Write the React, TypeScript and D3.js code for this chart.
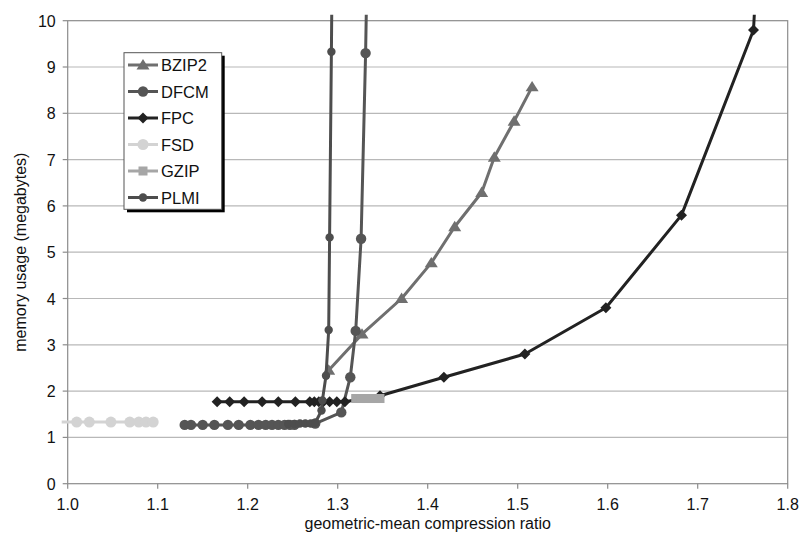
import React from "react";
import * as d3 from "d3";

// series values
const bzip2X = [1.290, 1.327, 1.371, 1.404, 1.430, 1.460, 1.474, 1.496, 1.516];
const bzip2Y = [2.45, 3.23, 4.00, 4.77, 5.55, 6.29, 7.05, 7.83, 8.57];

const dfcmX = [1.130, 1.137, 1.150, 1.163, 1.178, 1.190, 1.203, 1.212, 1.220, 1.227, 1.234, 1.241, 1.247, 1.252, 1.275, 1.304, 1.314, 1.320, 1.326, 1.331, 1.337];
const dfcmY = [1.27, 1.27, 1.27, 1.27, 1.27, 1.27, 1.27, 1.27, 1.27, 1.27, 1.27, 1.27, 1.27, 1.27, 1.30, 1.54, 2.30, 3.30, 5.29, 9.30, 16];

const fpcX = [1.166, 1.180, 1.196, 1.216, 1.234, 1.253, 1.269, 1.274, 1.279, 1.284, 1.291, 1.299, 1.308, 1.347, 1.418, 1.508, 1.598, 1.682, 1.762, 1.768];
const fpcY = [1.77, 1.77, 1.77, 1.77, 1.77, 1.77, 1.77, 1.77, 1.77, 1.77, 1.77, 1.77, 1.77, 1.90, 2.30, 2.80, 3.80, 5.80, 9.80, 12];

const fsdX = [0.97, 1.010, 1.024, 1.048, 1.069, 1.079, 1.087, 1.095];
const fsdY = [1.33, 1.33, 1.33, 1.33, 1.33, 1.33, 1.33, 1.33];

const gzipX = [1.320, 1.326, 1.332, 1.337, 1.342, 1.347];
const gzipY = [1.84, 1.84, 1.84, 1.84, 1.84, 1.84];

const plmiX = [1.245, 1.252, 1.258, 1.264, 1.270, 1.275, 1.282, 1.283, 1.287, 1.290, 1.291, 1.293, 1.296];
const plmiY = [1.29, 1.29, 1.30, 1.30, 1.30, 1.31, 1.58, 1.80, 2.33, 3.32, 5.32, 9.33, 16];

const xTicks = [1.0, 1.1, 1.2, 1.3, 1.4, 1.5, 1.6, 1.7, 1.8];
const yTicks = [0, 1, 2, 3, 4, 5, 6, 7, 8, 9, 10];

type Series = { name: string; xs: number[]; ys: number[]; color: string; marker: string; size: number };

const series: Series[] = [
  { name: "BZIP2", xs: bzip2X, ys: bzip2Y, color: "#6f6f6f", marker: "triangle", size: 11 },
  { name: "DFCM", xs: dfcmX, ys: dfcmY, color: "#555555", marker: "circle", size: 5.2 },
  { name: "FPC", xs: fpcX, ys: fpcY, color: "#222222", marker: "diamond", size: 5.5 },
  { name: "FSD", xs: fsdX, ys: fsdY, color: "#d3d3d3", marker: "circle", size: 5.5 },
  { name: "GZIP", xs: gzipX, ys: gzipY, color: "#a6a6a6", marker: "square", size: 4.5 },
  { name: "PLMI", xs: plmiX, ys: plmiY, color: "#4d4d4d", marker: "circle", size: 4.2 },
];

const font = "'Liberation Sans', Arial, sans-serif";

const Marker = ({ kind, x, y, size, color }: { kind: string; x: number; y: number; size: number; color: string }) => {
  if (kind === "circle") return <circle cx={x} cy={y} r={size} fill={color} />;
  if (kind === "square") return <rect x={x - size} y={y - size} width={size * 2} height={size * 2} fill={color} />;
  if (kind === "diamond")
    return <path d={`M${x},${y - size}L${x + size},${y}L${x},${y + size}L${x - size},${y}Z`} fill={color} />;
  const h = size * 0.9;
  return <path d={`M${x},${y - h * 0.6}L${x + size / 2 + 1},${y + h * 0.45}L${x - size / 2 - 1},${y + h * 0.45}Z`} fill={color} />;
};

export default function App() {
  const width = 804;
  const height = 545;
  const left = 67.7, right = 787.7, top = 20.7, bottom = 483.7;

  const x = d3.scaleLinear().domain([1.0, 1.8]).range([left, right]);
  const y = d3.scaleLinear().domain([0, 10]).range([bottom, top]);

  const line = d3.line<[number, number]>().x(d => x(d[0])).y(d => y(d[1]));

  return (
    <svg width={width} height={height} style={{ position: "absolute", left: 0, top: 0, background: "#fff" }}>
      <defs>
        <clipPath id="plot-clip">
          <rect x={left - 6} y={top - 6} width={right - left + 6} height={bottom - top + 6} />
        </clipPath>
      </defs>
      <rect width={width} height={height} fill="#fff" />

      {/* grid */}
      {yTicks.filter(t => t > 0 && t < 10).map(t => (
        <line key={t} x1={left} x2={right} y1={y(t)} y2={y(t)} stroke="#b8b8b8" strokeWidth={1.2} />
      ))}
      <rect x={left} y={top} width={right - left} height={bottom - top} fill="none" stroke="#8c8c8c" strokeWidth={1.2} />

      {/* ticks */}
      {xTicks.map(t => (
        <g key={t}>
          <line x1={x(t)} x2={x(t)} y1={bottom} y2={bottom + 5} stroke="#8c8c8c" strokeWidth={1.2} />
          <text x={x(t)} y={bottom + 26} textAnchor="middle" fontFamily={font} fontSize={16} fill="#111">
            {t.toFixed(1)}
          </text>
        </g>
      ))}
      {yTicks.map(t => (
        <g key={t}>
          <line x1={left - 5} x2={left} y1={y(t)} y2={y(t)} stroke="#8c8c8c" strokeWidth={1.2} />
          <text x={left - 12} y={y(t) + 6} textAnchor="end" fontFamily={font} fontSize={16} fill="#111">
            {t}
          </text>
        </g>
      ))}

      <text x={(left + right) / 2} y={529} textAnchor="middle" fontFamily={font} fontSize={16} fill="#111">
        geometric-mean compression ratio
      </text>
      <text transform={`translate(26,${(top + bottom) / 2}) rotate(-90)`} textAnchor="middle" fontFamily={font} fontSize={16} fill="#111">
        memory usage (megabytes)
      </text>

      {/* series */}
      <g clipPath="url(#plot-clip)">
        {series.map(s => {
          const pts = s.xs.map((v, i) => [v, s.ys[i]] as [number, number]);
          return (
            <g key={s.name}>
              <path d={line(pts) || ""} fill="none" stroke={s.color} strokeWidth={3} strokeLinejoin="round" />
              {pts.map((p, i) => (
                <Marker key={i} kind={s.marker} x={x(p[0])} y={y(p[1])} size={s.size} color={s.color} />
              ))}
            </g>
          );
        })}
      </g>

      {/* legend */}
      <g>
        <rect x={127} y={55.7} width={97.7} height={156.6} fill="#000" />
        <rect x={124} y={52.7} width={97.7} height={156.6} fill="#fff" stroke="#555" strokeWidth={1} />
        {series.map((s, i) => {
          const cy = 65 + i * 26.5;
          return (
            <g key={s.name}>
              <line x1={128} x2={158} y1={cy} y2={cy} stroke={s.color} strokeWidth={3} />
              <Marker kind={s.marker} x={143} y={cy} size={s.size} color={s.color} />
              <text x={161} y={cy + 6} fontFamily={font} fontSize={16.5} fill="#111">
                {s.name}
              </text>
            </g>
          );
        })}
      </g>
    </svg>
  );
}
